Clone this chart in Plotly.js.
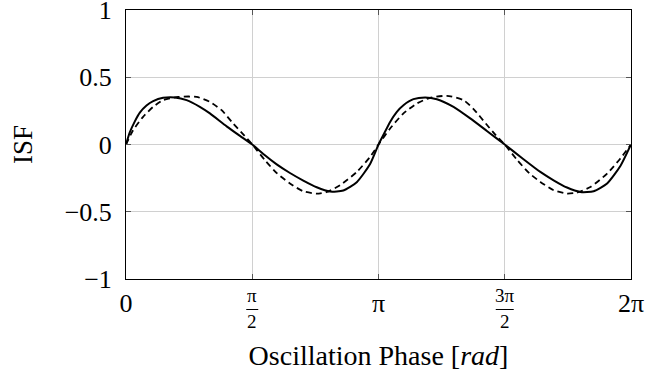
<!DOCTYPE html>
<html>
<head>
<meta charset="utf-8">
<script src="https://cdn.plot.ly/plotly-3.0.1.min.js"></script>
<style>html,body{margin:0;padding:0;background:#fff;}#chart{width:672px;height:380px;}</style>
</head>
<body>
<div id="chart"></div>
<script>
// Solid curve
const solidX = [0, 0.047, 0.110, 0.172, 0.255, 0.338, 0.462, 0.608, 0.754, 0.919, 1.044, 1.252, 1.418, 1.571, 1.717, 1.875, 2.040, 2.206, 2.373, 2.539, 2.704, 2.871, 3.037, 3.142,
  3.203, 3.286, 3.370, 3.452, 3.576, 3.722, 3.868, 4.075, 4.283, 4.494, 4.712, 4.930, 5.155, 5.320, 5.487, 5.653, 5.819, 5.986, 6.151, 6.283];
const solidY = [0, 0.090, 0.172, 0.237, 0.290, 0.323, 0.347, 0.350, 0.330, 0.280, 0.231, 0.135, 0.064, 0, -0.075, -0.148, -0.212, -0.268, -0.318, -0.350, -0.342, -0.280, -0.145, 0,
  0.072, 0.168, 0.243, 0.292, 0.337, 0.350, 0.337, 0.280, 0.194, 0.099, 0, -0.102, -0.204, -0.266, -0.320, -0.353, -0.348, -0.290, -0.160, 0];

// Dashed curve
const dashX = [0, 0.088, 0.213, 0.338, 0.462, 0.649, 0.878, 1.044, 1.190, 1.334, 1.459, 1.571, 1.729, 1.880, 2.040, 2.206, 2.373, 2.498, 2.663, 2.871, 3.037, 3.142,
  3.286, 3.452, 3.619, 3.784, 3.992, 4.199, 4.330, 4.476, 4.600, 4.712, 4.870, 5.020, 5.155, 5.320, 5.487, 5.612, 5.778, 5.986, 6.151, 6.283];
const dashY = [0, 0.106, 0.206, 0.280, 0.330, 0.354, 0.354, 0.317, 0.255, 0.156, 0.075, 0, -0.117, -0.215, -0.290, -0.348, -0.365, -0.353, -0.303, -0.204, -0.092, 0,
  0.119, 0.231, 0.305, 0.347, 0.362, 0.330, 0.260, 0.156, 0.070, 0, -0.117, -0.215, -0.278, -0.340, -0.365, -0.357, -0.316, -0.216, -0.104, 0];

// Tick labels
const xTickVals = [0, Math.PI / 2, Math.PI, 3 * Math.PI / 2, 2 * Math.PI];
const xTickText = ["0", "", "π", "", "2π"];
const fracVals = [Math.PI / 2, 3 * Math.PI / 2];
const fracNum = ["π", "3π"];
const fracDen = ["2", "2"];
const yTickVals = [-1, -0.5, 0, 0.5, 1];
const yTickText = ["−1", "−0.5", "0", "0.5", "1"];

const FONT = "Liberation Serif";
const W = 672, H = 380;
const M = {l: 126, r: 41, t: 10, b: 101};
const plotH = H - M.t - M.b;
const plotW = W - M.l - M.r;
const xRange = [0, 2 * Math.PI];
const pxToPaperY = (px) => -(px) / plotH;        // px below plot bottom
const pxToData = (px) => px * (xRange[1] - xRange[0]) / plotW;

const barHalf = [6, 9];
const annotations = [];
const shapes = [];
fracVals.forEach((v, i) => {
  annotations.push({x: v, xref: 'x', y: pxToPaperY(16), yref: 'paper', text: fracNum[i], showarrow: false,
    xanchor: 'center', yanchor: 'middle', font: {family: FONT, size: 19, color: '#000'}});
  annotations.push({x: v, xref: 'x', y: pxToPaperY(42), yref: 'paper', text: fracDen[i], showarrow: false,
    xanchor: 'center', yanchor: 'middle', font: {family: FONT, size: 19, color: '#000'}});
  shapes.push({type: 'line', xref: 'x', yref: 'paper', x0: v - pxToData(barHalf[i]), x1: v + pxToData(barHalf[i]),
    y0: pxToPaperY(30.5), y1: pxToPaperY(30.5), line: {color: '#000', width: 1}});
});

const traces = [
  {x: solidX, y: solidY, type: 'scatter', mode: 'lines', line: {color: '#000', width: 2, shape: 'spline', smoothing: 0.6}, hoverinfo: 'skip'},
  {x: dashX, y: dashY, type: 'scatter', mode: 'lines', line: {color: '#000', width: 1.8, dash: '6px,4px', shape: 'spline', smoothing: 0.6}, hoverinfo: 'skip'}
];

const layout = {
  width: W, height: H,
  margin: M,
  paper_bgcolor: '#fff', plot_bgcolor: '#fff',
  showlegend: false,
  font: {family: FONT, size: 26, color: '#000'},
  xaxis: {
    range: xRange, tickvals: xTickVals, ticktext: xTickText,
    showgrid: true, gridcolor: '#d0d0d0', gridwidth: 1,
    zeroline: false, showline: true, linecolor: '#000', linewidth: 1, mirror: 'ticks',
    ticks: 'inside', ticklen: 5, tickcolor: '#555',
    tickfont: {family: FONT, size: 26, color: '#000'},
    ticklabelstandoff: 1, ticklabeloverflow: 'allow',
    title: {text: 'Oscillation Phase [<i>rad</i>]', font: {family: FONT, size: 28, color: '#000'}, standoff: 28},
    automargin: false, fixedrange: true
  },
  yaxis: {
    range: [-1, 1], tickvals: yTickVals, ticktext: yTickText,
    showgrid: true, gridcolor: '#d0d0d0', gridwidth: 1,
    zeroline: false, showline: true, linecolor: '#000', linewidth: 1, mirror: 'ticks',
    ticks: 'inside', ticklen: 5, tickcolor: '#555',
    tickfont: {family: FONT, size: 26, color: '#000'},
    ticklabelstandoff: 8, ticklabeloverflow: 'allow',
    title: {text: 'ISF', font: {family: FONT, size: 27, color: '#000'}, standoff: 24},
    automargin: false, fixedrange: true
  },
  annotations: annotations,
  shapes: shapes
};

Plotly.newPlot('chart', traces, layout, {staticPlot: true, displayModeBar: false});
</script>
</body>
</html>
